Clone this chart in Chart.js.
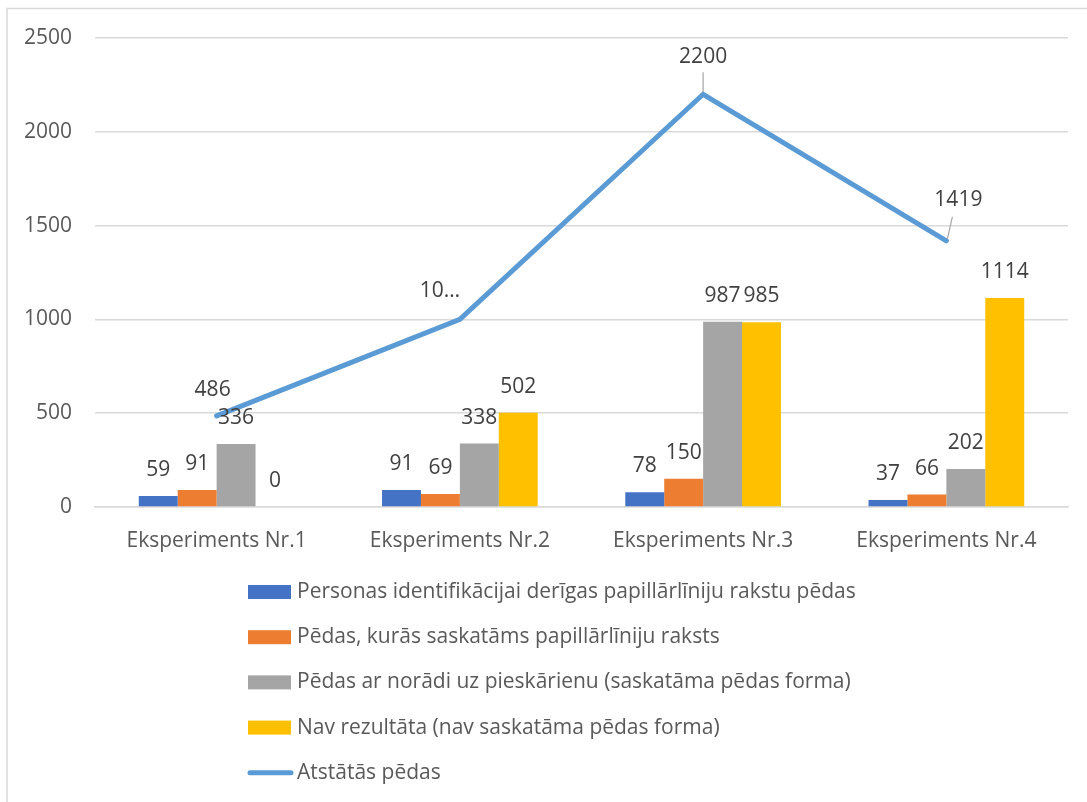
<!DOCTYPE html>
<html>
<head>
<meta charset="utf-8">
<script src="https://cdn.jsdelivr.net/npm/chart.js@4/dist/chart.umd.min.js"></script>
<style>
  html, body { margin: 0; padding: 0; background: #ffffff; }
  #wrap { width: 1087px; height: 802px; position: relative; }
  canvas { display: block; }
</style>
</head>
<body>
<div id="wrap"><canvas id="chart" width="1087" height="802"></canvas></div>
<script>
// Categories and series
const categories = ['Eksperiments Nr.1', 'Eksperiments Nr.2', 'Eksperiments Nr.3', 'Eksperiments Nr.4'];
const seriesNames = [
  'Personas identifikācijai derīgas papillārlīniju rakstu pēdas',
  'Pēdas, kurās saskatāms papillārlīniju raksts',
  'Pēdas ar norādi uz pieskārienu (saskatāma pēdas forma)',
  'Nav rezultāta (nav saskatāma pēdas forma)',
  'Atstātās pēdas'
];
const identifiable = [59, 91, 78, 37];
const visiblePattern = [91, 69, 150, 66];
const touchOnly = [336, 338, 987, 202];
const noResult = [0, 502, 985, 1114];
const tracesLeft = [486, 1000, 2200, 1419];
const yTicks = [0, 500, 1000, 1500, 2000, 2500];

// Styling
const FONT = '"Open Sans", "Noto Sans", sans-serif';
const FONT_SIZE = 21;
const barColors = ['#4472C4', '#ED7D31', '#A5A5A5', '#FFC000'];
const lineColor = '#5B9BD5';
// Offsets of the line labels from their points (dx, dy, leader line)
const lineLabelOffsets = [
  { dx: -4, dy: -26, leader: false },
  { dx: -20, dy: -28, leader: false, truncate: true },
  { dx: 0, dy: -37, leader: true },
  { dx: 12, dy: -41, leader: true }
];

const barSeries = [identifiable, visiblePattern, touchOnly, noResult];

const datasets = barSeries.map((arr, i) => ({
  type: 'bar',
  label: seriesNames[i],
  data: arr,
  backgroundColor: barColors[i],
  borderWidth: 0,
  categoryPercentage: 0.64,
  barPercentage: 1.0,
  order: 2
}));
datasets.push({
  type: 'line',
  label: seriesNames[4],
  data: tracesLeft,
  borderColor: lineColor,
  backgroundColor: lineColor,
  borderWidth: 5,
  borderCapStyle: 'round',
  pointRadius: 0,
  tension: 0,
  order: 1
});

const framePlugin = {
  id: 'frame',
  beforeDraw(chart) {
    const ctx = chart.ctx;
    ctx.save();
    ctx.fillStyle = '#ffffff';
    ctx.fillRect(0, 0, chart.width, chart.height);
    ctx.strokeStyle = '#d9d9d9';
    ctx.lineWidth = 1.5;
    ctx.beginPath();
    ctx.moveTo(7, chart.height);
    ctx.lineTo(7, 8.5);
    ctx.lineTo(chart.width, 8.5);
    ctx.stroke();
    ctx.restore();
  }
};

const labelPlugin = {
  id: 'valueLabels',
  afterDatasetsDraw(chart) {
    const ctx = chart.ctx;
    ctx.save();
    ctx.font = FONT_SIZE + 'px ' + FONT;
    ctx.fillStyle = '#404040';
    ctx.textAlign = 'center';
    ctx.textBaseline = 'middle';
    chart.data.datasets.forEach((ds, di) => {
      const meta = chart.getDatasetMeta(di);
      meta.data.forEach((el, i) => {
        const v = ds.data[i];
        if (ds.type === 'bar') {
          ctx.fillText(String(v), el.x, el.y - 26);
        } else {
          const off = lineLabelOffsets[i];
          const txt = off.truncate ? String(v).slice(0, 2) + '…' : String(v);
          const lx = el.x + off.dx, ly = el.y + off.dy;
          ctx.fillText(txt, lx, ly);
          if (off.leader) {
            ctx.save();
            ctx.strokeStyle = '#a6a6a6';
            ctx.lineWidth = 1.2;
            ctx.beginPath();
            if (off.dx === 0) {
              ctx.moveTo(el.x, ly + 15);
              ctx.lineTo(el.x, el.y - 2);
            } else {
              ctx.moveTo(lx - 6, ly + 17);
              ctx.lineTo(el.x + 1, el.y - 2);
            }
            ctx.stroke();
            ctx.restore();
          }
        }
      });
    });
    ctx.restore();
  }
};

const legendPlugin = {
  id: 'listLegend',
  afterDraw(chart) {
    const ctx = chart.ctx;
    const x0 = 248, y0 = 592, step = 45.2;
    ctx.save();
    ctx.font = FONT_SIZE + 'px ' + FONT;
    ctx.textAlign = 'left';
    ctx.textBaseline = 'middle';
    chart.data.datasets.forEach((ds, i) => {
      const cy = y0 + i * step;
      if (ds.type === 'line') {
        ctx.save();
        ctx.strokeStyle = ds.borderColor;
        ctx.lineWidth = 5;
        ctx.lineCap = 'round';
        ctx.beginPath();
        ctx.moveTo(x0 + 2, cy);
        ctx.lineTo(x0 + 43, cy);
        ctx.stroke();
        ctx.restore();
      } else {
        ctx.fillStyle = ds.backgroundColor;
        ctx.fillRect(x0, cy - 7, 43, 14);
      }
      ctx.fillStyle = '#595959';
      ctx.fillText(ds.label, x0 + 49, cy);
    });
    ctx.restore();
  }
};

new Chart(document.getElementById('chart'), {
  data: { labels: categories, datasets },
  options: {
    responsive: false,
    animation: false,
    devicePixelRatio: 1,
    layout: { padding: { left: 0, right: 19, top: 38, bottom: 245 } },
    plugins: {
      legend: { display: false },
      tooltip: { enabled: false },
      title: { display: false }
    },
    scales: {
      x: {
        offset: true,
        grid: { display: false, drawTicks: false },
        border: { display: true, color: '#d9d9d9', width: 1.5 },
        ticks: {
          color: '#595959',
          font: { family: FONT, size: FONT_SIZE },
          padding: 21,
          maxRotation: 0
        },
        afterFit(scale) { scale.height = 50; }
      },
      y: {
        min: 0,
        max: 2500,
        afterBuildTicks(scale) { scale.ticks = yTicks.map(v => ({ value: v })); },
        grid: { color: '#d9d9d9', lineWidth: 1.5, drawTicks: false },
        border: { display: false },
        ticks: {
          color: '#595959',
          font: { family: FONT, size: FONT_SIZE },
          padding: 23,
          callback: (v) => String(v)
        },
        afterFit(scale) { scale.width = 95; }
      }
    }
  },
  plugins: [framePlugin, labelPlugin, legendPlugin]
});
</script>
</body>
</html>
